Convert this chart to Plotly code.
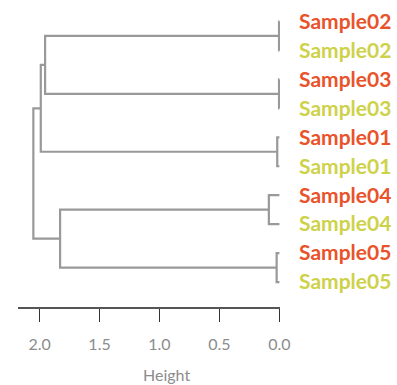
import plotly.graph_objects as go

# Leaves (top to bottom) and their label colours
leaf_labels = ["Sample02", "Sample02", "Sample03", "Sample03", "Sample01",
               "Sample01", "Sample04", "Sample04", "Sample05", "Sample05"]
leaf_colors = ["#E9532B", "#CDD24A", "#E9532B", "#CDD24A", "#E9532B",
               "#CDD24A", "#E9532B", "#CDD24A", "#E9532B", "#CDD24A"]

# Merges: (left child, right child, height); negative ids = leaves (-(i+1)), others = merge index
merge_left = [-1, -3, -5, -7, -9, 0, 5, 3, 6]
merge_right = [-2, -4, -6, -8, -10, 1, 2, 4, 7]
merge_height = [0.003, 0.003, 0.018, 0.088, 0.023, 1.954, 1.990, 1.829, 2.052]

x_ticks = [2.0, 1.5, 1.0, 0.5, 0.0]
x_tick_labels = ["2.0", "1.5", "1.0", "0.5", "0.0"]

pos = {}
hgt = {}


def node_pos(n):
    if n < 0:
        return -n - 1, 0.0
    return pos[n], hgt[n]


xs, ys = [], []
for k, (a, b, h) in enumerate(zip(merge_left, merge_right, merge_height)):
    ya, ha = node_pos(a)
    yb, hb = node_pos(b)
    xs += [ha, h, h, hb, None]
    ys += [ya, ya, yb, yb, None]
    pos[k] = (ya + yb) / 2
    hgt[k] = h

fig = go.Figure()
fig.add_trace(go.Scatter(x=xs, y=ys, mode="lines",
                         line=dict(color="#999999", width=2.2),
                         hoverinfo="skip", showlegend=False))

ticktext = [f"<span style='color:{c}'><b>{t}</b></span>" for t, c in zip(leaf_labels, leaf_colors)]

fig.update_layout(
    width=397, height=385,
    margin=dict(l=18, r=117, t=6.5, b=78),
    paper_bgcolor="white", plot_bgcolor="white",
    font=dict(family="Lato, sans-serif"),
    xaxis=dict(range=[2.18, -0.005], tickvals=x_ticks, ticktext=x_tick_labels,
               ticks="outside", ticklen=13, tickwidth=1, tickcolor="#333333",
               showline=True, linecolor="#555555", linewidth=2,
               showgrid=False, zeroline=False,
               tickfont=dict(size=16, color="#8C8C8C"), ticklabelstandoff=9),
    yaxis=dict(range=[9.862, -0.5], side="right", tickvals=list(range(len(leaf_labels))),
               ticktext=ticktext, showgrid=False, zeroline=False, showline=False,
               ticks="", tickfont=dict(size=21, family="Lato, sans-serif"),
               ticklabelstandoff=18),
    annotations=[dict(text="Height", xref="paper", yref="paper", x=0.5676, y=-0.2263,
                      xanchor="center", yanchor="middle", showarrow=False,
                      font=dict(size=16, color="#8C8C8C"))],
)

fig.write_html("out.html", config={"displayModeBar": False},
               post_script="document.body.style.margin='0px';")
